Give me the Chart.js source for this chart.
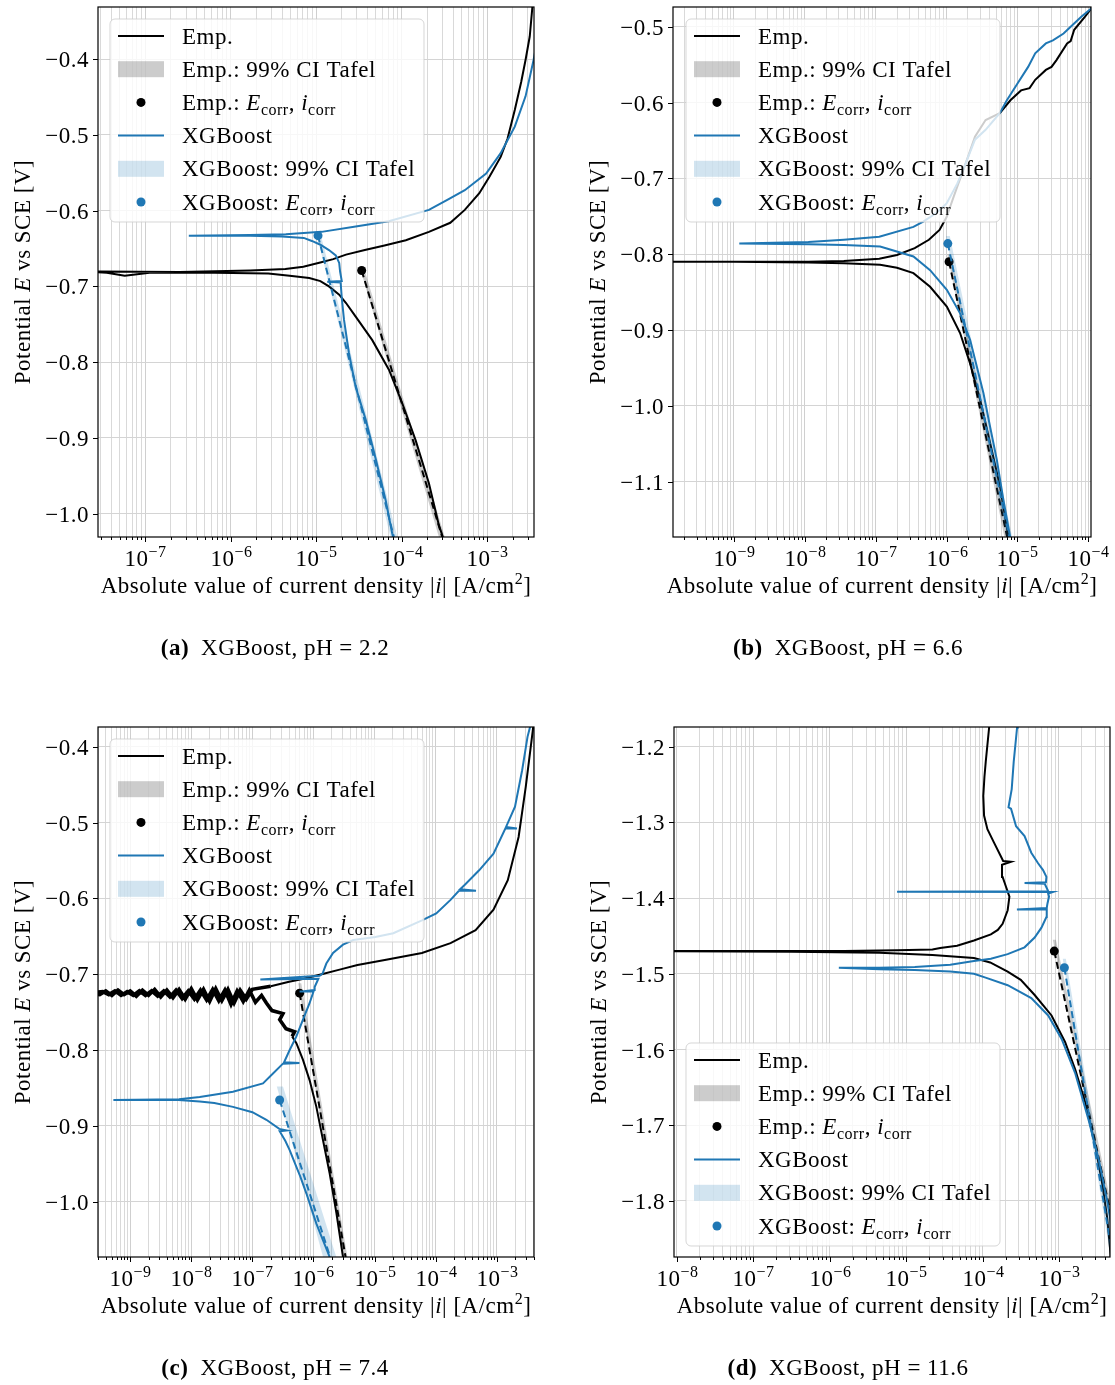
<!DOCTYPE html>
<html>
<head>
<meta charset="utf-8">
<title>Polarisation curves: empirical vs XGBoost</title>
<script src="https://cdn.jsdelivr.net/npm/chart.js@4.4.1/dist/chart.umd.min.js"></script>
<style>
  body { margin: 0; background: #fff; }
  #page { position: relative; width: 1115px; height: 1385px; }
  canvas { position: absolute; }
</style>
</head>
<body>
<div id="page">
  <canvas id="pa" width="557" height="700" style="left:0;top:0"></canvas>
  <canvas id="pb" width="558" height="700" style="left:557px;top:0"></canvas>
  <canvas id="pc" width="557" height="685" style="left:0;top:700px"></canvas>
  <canvas id="pd" width="558" height="685" style="left:557px;top:700px"></canvas>
</div>
<script>
// currents are stored as log10(|i| [A/cm2]), potentials as E vs SCE [V]
// Tafel arrays start at (i_corr, E_corr); band arrays are polygon corners

// ---- (a) pH 2.2
const aXRange = [-7.553, -2.45];
const aYRange = [-1.031, -0.331];
const aYTicks = [-1.0, -0.9, -0.8, -0.7, -0.6, -0.5, -0.4];
const aEmpLogI = [-3.49, -3.564, -3.68, -3.836, -3.993, -4.148, -4.343, -4.537, -4.65, -4.73, -4.85, -4.95, -5.08, -5.31, -5.56, -6.19, -6.95, -7.24, -7.45, -7.8,
  -6.6, -5.77, -5.36, -5.15, -4.94, -4.8, -4.65, -4.43, -4.2, -3.95, -3.68, -3.43, -3.26, -3.09, -2.97, -2.84, -2.76, -2.675, -2.6, -2.549, -2.5, -2.46];
const aEmpE = [-1.04, -1.015, -0.96, -0.903, -0.854, -0.81, -0.771, -0.74, -0.722, -0.711, -0.7, -0.693, -0.689, -0.686, -0.683, -0.682, -0.682, -0.686, -0.682, -0.68,
  -0.681, -0.679, -0.677, -0.674, -0.668, -0.664, -0.658, -0.652, -0.646, -0.639, -0.628, -0.616, -0.599, -0.577, -0.555, -0.529, -0.505, -0.467, -0.43, -0.401, -0.37, -0.32];
const aXgbLogI = [-4.08, -4.11, -4.187, -4.3, -4.42, -4.537, -4.616, -4.674, -4.7, -4.713, -4.87, -4.7, -4.72, -4.73, -4.77, -4.85, -4.95, -5.05, -5.145, -5.4, -5.773, -6.49,
  -5.773, -5.355, -4.936, -4.537, -4.15, -3.68, -3.47, -3.26, -3.01, -2.84, -2.76, -2.675, -2.549, -2.455, -2.42];
const aXgbE = [-1.04, -1.026, -0.982, -0.929, -0.876, -0.833, -0.788, -0.744, -0.715, -0.695, -0.694, -0.693, -0.68, -0.669, -0.659, -0.652, -0.645, -0.64, -0.636, -0.634, -0.633, -0.633,
  -0.632, -0.631, -0.628, -0.621, -0.614, -0.599, -0.586, -0.573, -0.551, -0.524, -0.507, -0.489, -0.449, -0.401, -0.38];
const aEmpTafelLogI = [-4.467, -3.5];
const aEmpTafelE = [-0.679, -1.04];
const aXgbTafelLogI = [-4.978, -4.07];
const aXgbTafelE = [-0.633, -1.04];
const aEmpBandLogI = [-4.49, -4.445, -3.47, -3.54];
const aEmpBandE = [-0.674, -0.674, -1.04, -1.04];
const aXgbBandLogI = [-5.0, -4.955, -4.03, -4.11];
const aXgbBandE = [-0.628, -0.628, -1.04, -1.04];

// ---- (b) pH 6.6
const bXRange = [-9.86, -3.963];
const bYRange = [-1.173, -0.474];
const bYTicks = [-1.1, -1.0, -0.9, -0.8, -0.7, -0.6, -0.5];
const bEmpLogI = [-5.1, -5.128, -5.245, -5.386, -5.527, -5.669, -5.81, -5.997, -6.233, -6.468, -6.7, -6.938, -7.45, -7.95, -9.0, -10.5,
  -7.95, -7.45, -6.95, -6.7, -6.45, -6.25, -6.1, -6.0, -5.9, -5.8, -5.7, -5.6, -5.45, -5.25, -5.1, -4.95, -4.83, -4.75, -4.6, -4.52, -4.45, -4.3, -4.25, -4.2, -4.05, -3.96, -3.93];
const bEmpE = [-1.19, -1.173, -1.107, -1.049, -0.992, -0.944, -0.904, -0.869, -0.843, -0.825, -0.818, -0.814, -0.812, -0.811, -0.81, -0.81,
  -0.81, -0.809, -0.806, -0.801, -0.792, -0.781, -0.768, -0.751, -0.724, -0.698, -0.672, -0.645, -0.623, -0.614, -0.597, -0.584, -0.581, -0.57, -0.557, -0.553, -0.544, -0.522, -0.519, -0.504, -0.487, -0.476, -0.47];
const bXgbLogI = [-5.09, -5.104, -5.199, -5.292, -5.386, -5.481, -5.574, -5.669, -5.81, -5.997, -6.233, -6.468, -6.938, -7.45, -7.95, -8.925,
  -7.95, -7.45, -6.95, -6.468, -6.33, -6.15, -6.0, -5.85, -5.75, -5.6, -5.45, -5.25, -5.15, -5.0, -4.85, -4.75, -4.6, -4.5, -4.35, -4.25, -4.1, -3.96, -3.93];
const bXgbE = [-1.19, -1.173, -1.124, -1.071, -1.028, -0.983, -0.948, -0.913, -0.878, -0.847, -0.821, -0.803, -0.79, -0.788, -0.787, -0.786,
  -0.784, -0.781, -0.777, -0.764, -0.757, -0.746, -0.733, -0.707, -0.685, -0.649, -0.636, -0.614, -0.597, -0.575, -0.553, -0.535, -0.522, -0.518, -0.509, -0.5, -0.487, -0.476, -0.47];
const bEmpTafelLogI = [-5.965, -5.13];
const bEmpTafelE = [-0.81, -1.18];
const bXgbTafelLogI = [-5.983, -5.1];
const bXgbTafelE = [-0.786, -1.18];
const bEmpBandLogI = [-5.99, -5.94, -5.09, -5.17];
const bEmpBandE = [-0.8, -0.8, -1.18, -1.18];
const bXgbBandLogI = [-6.01, -5.955, -5.06, -5.14];
const bXgbBandE = [-0.776, -0.776, -1.18, -1.18];

// ---- (c) pH 7.4 (the empirical curve is noisy around E_corr)
const cXRange = [-9.527, -2.391];
const cYRange = [-1.073, -0.374];
const cYTicks = [-1.0, -0.9, -0.8, -0.7, -0.6, -0.5, -0.4];
const cEmpLogI = [-5.5, -5.517, -5.625, -5.735, -5.844, -5.953, -6.063, -6.172, -6.28, -6.35, -6.31, -6.45, -6.553, -6.5, -6.68, -6.771,
  -6.85, -6.95, -7.05, -7.15, -7.25, -7.35, -7.45, -7.55, -7.65, -7.75, -7.85, -7.95, -8.05, -8.15, -8.25, -8.35, -8.45, -8.55, -8.65, -8.75, -8.85, -8.95, -9.05, -9.15, -9.25, -9.35, -9.45, -9.7,
  -9.5, -9.4, -9.3, -9.2, -9.1, -9.0, -8.9, -8.8, -8.7, -8.6, -8.5, -8.4, -8.3, -8.2, -8.1, -8.0, -7.9, -7.8, -7.7, -7.6, -7.5, -7.4, -7.3, -7.2, -7.1, -7.0,
  -6.7, -6.4, -6.159, -5.866, -5.573, -5.28, -4.811, -4.225, -3.757, -3.347, -3.054, -2.82, -2.643, -2.526, -2.41, -2.37];
const cEmpE = [-1.085, -1.073, -1.015, -0.963, -0.919, -0.875, -0.84, -0.813, -0.791, -0.782, -0.776, -0.772, -0.76, -0.752, -0.748, -0.738,
  -0.728, -0.737, -0.721, -0.736, -0.722, -0.74, -0.721, -0.735, -0.72, -0.734, -0.721, -0.733, -0.722, -0.732, -0.721, -0.73, -0.722, -0.729, -0.722, -0.728, -0.722, -0.728, -0.723, -0.728, -0.722, -0.727, -0.723, -0.725,
  -0.727, -0.722, -0.728, -0.721, -0.727, -0.722, -0.729, -0.721, -0.728, -0.72, -0.73, -0.721, -0.731, -0.72, -0.733, -0.719, -0.734, -0.72, -0.736, -0.719, -0.735, -0.72, -0.738, -0.721, -0.733, -0.72,
  -0.716, -0.71, -0.706, -0.7, -0.694, -0.688, -0.681, -0.672, -0.659, -0.642, -0.615, -0.576, -0.519, -0.453, -0.378, -0.35];
const cEmpNoisy = [9, 70];
const cXgbLogI = [-5.72, -5.735, -5.953, -6.117, -6.22, -6.28, -6.39, -6.46, -6.554, -6.44, -6.56, -6.771, -7.0, -7.318, -7.623, -7.862, -8.209, -9.275,
  -8.2, -7.862, -7.318, -6.827, -6.663, -6.5, -6.23, -6.48, -6.39, -6.28, -6.172, -6.063, -6.0, -6.227, -5.99, -5.981, -5.92, -6.87, -5.899, -5.85, -5.79, -5.68,
  -5.517, -5.35, -4.987, -4.694, -4.225, -3.991, -3.757, -3.62, -3.34, -3.6, -3.523, -3.289, -3.054, -2.86, -2.67, -2.85, -2.702, -2.585, -2.497, -2.456, -2.44];
const cXgbE = [-1.085, -1.073, -1.029, -0.989, -0.966, -0.954, -0.932, -0.92, -0.907, -0.906, -0.904, -0.892, -0.882, -0.875, -0.87, -0.868, -0.866, -0.866,
  -0.865, -0.862, -0.855, -0.844, -0.831, -0.818, -0.817, -0.816, -0.8, -0.782, -0.76, -0.738, -0.723, -0.723, -0.721, -0.717, -0.706, -0.707, -0.702, -0.699, -0.686, -0.672,
  -0.661, -0.655, -0.651, -0.646, -0.629, -0.62, -0.602, -0.59, -0.59, -0.588, -0.582, -0.563, -0.541, -0.508, -0.508, -0.506, -0.479, -0.431, -0.387, -0.374, -0.36];
const cEmpTafelLogI = [-6.227, -5.46];
const cEmpTafelE = [-0.725, -1.08];
const cXgbTafelLogI = [-6.554, -5.7];
const cXgbTafelE = [-0.866, -1.08];
const cEmpBandLogI = [-6.25, -6.2, -5.43, -5.5];
const cEmpBandE = [-0.712, -0.712, -1.08, -1.08];
const cXgbBandLogI = [-6.6, -6.5, -5.6, -5.82];
const cXgbBandE = [-0.848, -0.848, -1.08, -1.08];

// ---- (d) pH 11.6
const dXRange = [-8.037, -2.332];
const dYRange = [-1.874, -1.174];
const dYTicks = [-1.8, -1.7, -1.6, -1.5, -1.4, -1.3, -1.2];
const dEmpLogI = [-2.3, -2.324, -2.369, -2.434, -2.523, -2.655, -2.788, -2.92, -3.097, -3.318, -3.5, -3.671, -3.9, -4.112, -4.655, -5.35, -6.5, -8.5,
  -5.813, -5.118, -4.655, -4.554, -4.333, -4.112, -3.891, -3.8, -3.737, -3.671, -3.648, -3.693, -3.737, -3.745, -3.627, -3.73, -3.759, -3.848, -3.936, -3.98, -3.99, -3.975, -3.958, -3.914, -3.9];
const dEmpE = [-1.9, -1.871, -1.822, -1.777, -1.728, -1.67, -1.626, -1.59, -1.555, -1.528, -1.508, -1.497, -1.485, -1.479, -1.475, -1.472, -1.471, -1.47,
  -1.47, -1.469, -1.468, -1.466, -1.463, -1.456, -1.448, -1.442, -1.434, -1.416, -1.398, -1.385, -1.372, -1.356, -1.352, -1.351, -1.345, -1.327, -1.309, -1.291, -1.265, -1.24, -1.22, -1.175, -1.15];
const dXgbLogI = [-2.3, -2.324, -2.369, -2.478, -2.612, -2.788, -2.965, -3.141, -3.362, -3.671, -3.96, -4.112, -4.422, -4.886, -5.35, -5.88,
  -5.35, -4.886, -4.422, -4.112, -3.891, -3.671, -3.45, -3.318, -3.229, -3.164, -3.16, -3.55, -3.16, -3.15, -3.13, -3.141, -3.08, -5.118, -3.14, -3.186,
  -3.45, -3.17, -3.164, -3.208, -3.273, -3.362, -3.45, -3.561, -3.627, -3.66, -3.618, -3.592, -3.548, -3.54];
const dXgbE = [-1.845, -1.827, -1.8, -1.746, -1.693, -1.631, -1.586, -1.555, -1.532, -1.515, -1.505, -1.5, -1.497, -1.495, -1.494, -1.492,
  -1.492, -1.491, -1.488, -1.483, -1.48, -1.474, -1.465, -1.452, -1.439, -1.425, -1.415, -1.415, -1.413, -1.407, -1.398, -1.394, -1.392, -1.3915, -1.391, -1.381,
  -1.38, -1.379, -1.372, -1.363, -1.354, -1.34, -1.318, -1.305, -1.282, -1.28, -1.256, -1.22, -1.175, -1.15];
const dEmpTafelLogI = [-3.061, -2.2];
const dEmpTafelE = [-1.47, -1.875];
const dXgbTafelLogI = [-2.929, -2.29];
const dXgbTafelE = [-1.492, -1.877];
const dEmpBandLogI = [-3.08, -3.04, -2.17, -2.23];
const dEmpBandE = [-1.455, -1.455, -1.875, -1.875];
const dXgbBandLogI = [-2.95, -2.91, -2.26, -2.32];
const dXgbBandE = [-1.48, -1.48, -1.877, -1.877];

const BLUE = '#1f77b4';
const BLUE_BAND = 'rgba(31,119,180,0.2)';
const GRAY_BAND = 'rgba(0,0,0,0.2)';
const SERIF = '"Liberation Serif", "DejaVu Serif", serif';
const FONT_PX = 23;
const SMALL_PX = 16;

function pts(logI, E) {
  return logI.map((v, k) => ({ x: Math.pow(10, v), y: E[k] }));
}

function xTickList(r) {
  const out = [];
  for (let k = Math.floor(r[0]); k <= Math.ceil(r[1]); k++) {
    for (let m = 1; m <= 9; m++) {
      const lv = k + Math.log10(m);
      if (lv >= r[0] && lv <= r[1]) out.push({ value: m * Math.pow(10, k), major: m === 1 });
    }
  }
  return out;
}

// text made of runs: {t, i: italic, b: bold, s: size, dy: baseline shift}
function runFont(p) {
  return (p.i ? 'italic ' : '') + (p.b ? 'bold ' : '') + (p.s || FONT_PX) + 'px ' + SERIF;
}
function richWidth(ctx, parts) {
  let w = 0;
  for (const p of parts) { ctx.font = runFont(p); w += ctx.measureText(p.t).width; }
  return w;
}
function drawRich(ctx, parts, x, y) {
  for (const p of parts) {
    ctx.font = runFont(p);
    ctx.fillText(p.t, x, y + (p.dy || 0));
    x += ctx.measureText(p.t).width;
  }
}

const corrRuns = (name) => [{ t: name + ': ' }, { t: 'E', i: 1 }, { t: 'corr', s: SMALL_PX, dy: 5 }, { t: ', ' }, { t: 'i', i: 1 }, { t: 'corr', s: SMALL_PX, dy: 5 }];
const legendRows = [
  { kind: 'line', color: '#000', text: [{ t: 'Emp.' }] },
  { kind: 'patch', color: GRAY_BAND, text: [{ t: 'Emp.: 99% CI Tafel' }] },
  { kind: 'dot', color: '#000', text: corrRuns('Emp.') },
  { kind: 'line', color: BLUE, text: [{ t: 'XGBoost' }] },
  { kind: 'patch', color: BLUE_BAND, text: [{ t: 'XGBoost: 99% CI Tafel' }] },
  { kind: 'dot', color: BLUE, text: corrRuns('XGBoost') },
];

function drawLegend(ctx, x0, y0) {
  const w = 314, h = 203, r = 5;
  ctx.beginPath();
  ctx.moveTo(x0 + r, y0);
  ctx.arcTo(x0 + w, y0, x0 + w, y0 + h, r);
  ctx.arcTo(x0 + w, y0 + h, x0, y0 + h, r);
  ctx.arcTo(x0, y0 + h, x0, y0, r);
  ctx.arcTo(x0, y0, x0 + w, y0, r);
  ctx.closePath();
  ctx.fillStyle = 'rgba(255,255,255,0.8)';
  ctx.fill();
  ctx.strokeStyle = 'rgba(204,204,204,0.8)';
  ctx.lineWidth = 1;
  ctx.stroke();

  legendRows.forEach((row, k) => {
    const cy = y0 + 17 + k * 33.2;
    const hx = x0 + 8, hw = 46;
    if (row.kind === 'line') {
      ctx.strokeStyle = row.color; ctx.lineWidth = 2;
      ctx.beginPath(); ctx.moveTo(hx, cy); ctx.lineTo(hx + hw, cy); ctx.stroke();
    } else if (row.kind === 'patch') {
      ctx.fillStyle = row.color;
      ctx.fillRect(hx, cy - 8, hw, 16);
    } else {
      ctx.fillStyle = row.color;
      ctx.beginPath(); ctx.arc(hx + hw / 2, cy, 4.5, 0, Math.PI * 2); ctx.fill();
    }
    ctx.fillStyle = '#000';
    drawRich(ctx, row.text, x0 + 72, cy + 7.5);
  });
}

function decorations(d) {
  return {
    id: 'decorations',
    afterDraw(chart) {
      const { ctx, chartArea: a, scales: { x, y } } = chart;
      ctx.save();
      ctx.textAlign = 'left';
      ctx.textBaseline = 'alphabetic';
      ctx.letterSpacing = '0.5px';

      ctx.strokeStyle = '#000';
      ctx.lineWidth = 1.2;
      ctx.strokeRect(a.left, a.top, a.right - a.left, a.bottom - a.top);

      // x ticks, with 10^n labels on the decades
      ctx.lineWidth = 1;
      ctx.fillStyle = '#000';
      for (const t of x.ticks) {
        const px = Math.round(x.getPixelForValue(t.value)) + 0.5;
        ctx.beginPath();
        ctx.moveTo(px, a.bottom);
        ctx.lineTo(px, a.bottom + (t.major ? 5 : 3));
        ctx.stroke();
        if (t.major) {
          const exp = Math.round(Math.log10(t.value));
          const parts = [{ t: '10' }, { t: '\u2212' + Math.abs(exp), s: SMALL_PX, dy: -9 }];
          drawRich(ctx, parts, px - richWidth(ctx, parts) / 2, a.bottom + 29);
        }
      }

      // y ticks
      for (const t of y.ticks) {
        const py = Math.round(y.getPixelForValue(t.value)) + 0.5;
        ctx.beginPath();
        ctx.moveTo(a.left - 5, py);
        ctx.lineTo(a.left, py);
        ctx.stroke();
        const label = [{ t: t.value.toFixed(1).replace('-', '\u2212') }];
        drawRich(ctx, label, a.left - 9 - richWidth(ctx, label), py + 7.5);
      }

      // axis titles
      const xTitle = [{ t: 'Absolute value of current density |' }, { t: 'i', i: 1 }, { t: '| [A/cm' }, { t: '2', s: SMALL_PX, dy: -9 }, { t: ']' }];
      drawRich(ctx, xTitle, (a.left + a.right) / 2 - richWidth(ctx, xTitle) / 2, a.bottom + 56);

      const yTitle = [{ t: 'Potential ' }, { t: 'E', i: 1 }, { t: ' vs SCE [V]' }];
      ctx.save();
      ctx.translate(a.left - 76, (a.top + a.bottom) / 2);
      ctx.rotate(-Math.PI / 2);
      drawRich(ctx, yTitle, -richWidth(ctx, yTitle) / 2, 7.5);
      ctx.restore();

      drawLegend(ctx, d.legend[0], d.legend[1]);

      const cap = [{ t: d.caption[0], b: 1 }, { t: d.caption[1] }];
      ctx.fillStyle = '#000';
      drawRich(ctx, cap, d.capX - richWidth(ctx, cap) / 2, a.bottom + 118);
      ctx.restore();
    }
  };
}

function makePanel(id, d) {
  const noisy = d.noisy || [-1, -1];
  const sets = [
    { data: pts(d.emp[0], d.emp[1]), borderColor: '#000', borderWidth: 2,
      segment: { borderWidth: s => (s.p0DataIndex >= noisy[0] && s.p1DataIndex <= noisy[1]) ? 3.6 : 2 } },
    { data: pts(d.empBand[0], d.empBand[1]), borderWidth: 0, fill: 'shape', backgroundColor: GRAY_BAND },
    { data: pts(d.empTafel[0], d.empTafel[1]), borderColor: '#000', borderWidth: 2, borderDash: [7, 4] },
    { data: pts(d.empTafel[0], d.empTafel[1]).slice(0, 1), showLine: false, pointRadius: 4.5, pointBackgroundColor: '#000', pointBorderWidth: 0 },
    { data: pts(d.xgb[0], d.xgb[1]), borderColor: BLUE, borderWidth: 2 },
    { data: pts(d.xgbBand[0], d.xgbBand[1]), borderWidth: 0, fill: 'shape', backgroundColor: BLUE_BAND },
    { data: pts(d.xgbTafel[0], d.xgbTafel[1]), borderColor: BLUE, borderWidth: 2, borderDash: [7, 4] },
    { data: pts(d.xgbTafel[0], d.xgbTafel[1]).slice(0, 1), showLine: false, pointRadius: 4.5, pointBackgroundColor: BLUE, pointBorderWidth: 0 },
  ].map((s, k, all) => Object.assign({ pointRadius: 0, fill: false, clip: 0, tension: 0, order: all.length - k }, s));

  new Chart(document.getElementById(id), {
    type: 'line',
    data: { datasets: sets },
    options: {
      responsive: false,
      animation: false,
      devicePixelRatio: 1,
      events: [],
      layout: { padding: d.pad },
      plugins: { legend: { display: false }, tooltip: { enabled: false } },
      scales: {
        x: {
          type: 'logarithmic',
          bounds: 'data',
          min: Math.pow(10, d.xRange[0]),
          max: Math.pow(10, d.xRange[1]),
          afterBuildTicks: s => { s.ticks = xTickList(d.xRange); },
          ticks: { display: false },
          border: { display: false },
          grid: { drawTicks: false, lineWidth: 1, color: c => (c.tick && c.tick.major) ? '#cfcfcf' : '#d9d9d9' }
        },
        y: {
          type: 'linear',
          bounds: 'data',
          min: d.yRange[0],
          max: d.yRange[1],
          afterBuildTicks: s => { s.ticks = d.yTicks.map(v => ({ value: v, major: true })); },
          ticks: { display: false },
          border: { display: false },
          grid: { drawTicks: false, lineWidth: 1, color: '#d4d4d4' }
        }
      }
    },
    plugins: [decorations(d)]
  });
}

makePanel('pa', {
  emp: [aEmpLogI, aEmpE], xgb: [aXgbLogI, aXgbE],
  empTafel: [aEmpTafelLogI, aEmpTafelE], xgbTafel: [aXgbTafelLogI, aXgbTafelE],
  empBand: [aEmpBandLogI, aEmpBandE], xgbBand: [aXgbBandLogI, aXgbBandE],
  xRange: aXRange, yRange: aYRange, yTicks: aYTicks,
  pad: { left: 98, top: 7, right: 23, bottom: 163 },
  legend: [110, 19], capX: 275, caption: ['(a)', '\u2002XGBoost, pH = 2.2']
});
makePanel('pb', {
  emp: [bEmpLogI, bEmpE], xgb: [bXgbLogI, bXgbE],
  empTafel: [bEmpTafelLogI, bEmpTafelE], xgbTafel: [bXgbTafelLogI, bXgbTafelE],
  empBand: [bEmpBandLogI, bEmpBandE], xgbBand: [bXgbBandLogI, bXgbBandE],
  xRange: bXRange, yRange: bYRange, yTicks: bYTicks,
  pad: { left: 116, top: 7, right: 24, bottom: 163 },
  legend: [129, 19], capX: 291, caption: ['(b)', '\u2002XGBoost, pH = 6.6']
});
makePanel('pc', {
  emp: [cEmpLogI, cEmpE], xgb: [cXgbLogI, cXgbE], noisy: cEmpNoisy,
  empTafel: [cEmpTafelLogI, cEmpTafelE], xgbTafel: [cXgbTafelLogI, cXgbTafelE],
  empBand: [cEmpBandLogI, cEmpBandE], xgbBand: [cXgbBandLogI, cXgbBandE],
  xRange: cXRange, yRange: cYRange, yTicks: cYTicks,
  pad: { left: 98, top: 27, right: 23, bottom: 128 },
  legend: [110, 39], capX: 275, caption: ['(c)', '\u2002XGBoost, pH = 7.4']
});
makePanel('pd', {
  emp: [dEmpLogI, dEmpE], xgb: [dXgbLogI, dXgbE],
  empTafel: [dEmpTafelLogI, dEmpTafelE], xgbTafel: [dXgbTafelLogI, dXgbTafelE],
  empBand: [dEmpBandLogI, dEmpBandE], xgbBand: [dXgbBandLogI, dXgbBandE],
  xRange: dXRange, yRange: dYRange, yTicks: dYTicks,
  pad: { left: 117, top: 27, right: 5, bottom: 128 },
  legend: [129, 343], capX: 291, caption: ['(d)', '\u2002XGBoost, pH = 11.6']
});
</script>
</body>
</html>
